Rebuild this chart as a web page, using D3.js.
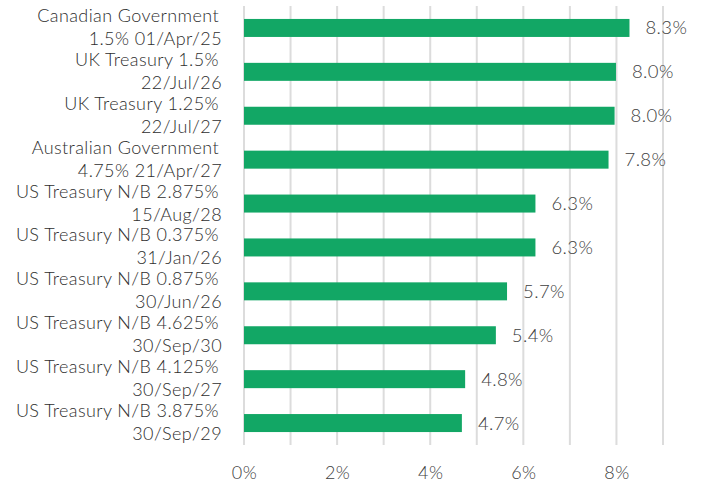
<!DOCTYPE html>
<html>
<head>
<meta charset="utf-8">
<script src="https://cdn.jsdelivr.net/npm/d3@7"></script>
<style>
  body { margin: 0; background: #fff; }
  svg { display: block; font-family: "Lato", "Open Sans", sans-serif; font-weight: 300; letter-spacing: 0.4px; }
</style>
</head>
<body>
<svg></svg>
<script>
// bond names, each split into two lines as in the original
const names = [
  ["Canadian Government", "1.5% 01/Apr/25"],
  ["UK Treasury 1.5%", "22/Jul/26"],
  ["UK Treasury 1.25%", "22/Jul/27"],
  ["Australian Government", "4.75% 21/Apr/27"],
  ["US Treasury N/B 2.875%", "15/Aug/28"],
  ["US Treasury N/B 0.375%", "31/Jan/26"],
  ["US Treasury N/B 0.875%", "30/Jun/26"],
  ["US Treasury N/B 4.625%", "30/Sep/30"],
  ["US Treasury N/B 4.125%", "30/Sep/27"],
  ["US Treasury N/B 3.875%", "30/Sep/29"]
];
const weights = [8.28, 7.99, 7.96, 7.83, 6.26, 6.26, 5.65, 5.41, 4.75, 4.68];
const valueLabels = ["8.3%", "8.0%", "8.0%", "7.8%", "6.3%", "6.3%", "5.7%", "5.4%", "4.8%", "4.7%"];
const gridTicks = [0, 1, 2, 3, 4, 5, 6, 7, 8, 9];
const axisTicks = [0, 2, 4, 6, 8];

const width = 706;
const height = 485;

const svg = d3.select("svg").attr("width", width).attr("height", height);

const x = d3.scaleLinear().domain([0, 9]).range([244, 663]);
const y = d3.scaleBand()
  .domain(d3.range(names.length))
  .range([6, 445])
  .paddingInner(0.59)
  .paddingOuter(0.295);

// grid lines
svg.append("g")
  .selectAll("line")
  .data(gridTicks)
  .join("line")
  .attr("x1", d => x(d))
  .attr("x2", d => x(d))
  .attr("y1", 6)
  .attr("y2", 445)
  .attr("stroke", "#dcdcdc")
  .attr("stroke-width", 2);

// bars
svg.append("g")
  .selectAll("rect")
  .data(weights)
  .join("rect")
  .attr("x", x(0))
  .attr("y", (d, i) => y(i))
  .attr("width", d => x(d) - x(0))
  .attr("height", y.bandwidth())
  .attr("fill", "#12a765");

// value labels
svg.append("g")
  .selectAll("text")
  .data(weights)
  .join("text")
  .attr("x", d => x(d) + 16)
  .attr("y", (d, i) => y(i) + y.bandwidth() / 2)
  .attr("dy", "0.35em")
  .attr("font-size", 18.5)
  .attr("fill", "#404040")
  .text((d, i) => valueLabels[i]);

// category labels
const cat = svg.append("g")
  .selectAll("text")
  .data(names)
  .join("text")
  .attr("text-anchor", "end")
  .attr("font-size", 18)
  .attr("fill", "#2e2e2e");

cat.append("tspan")
  .attr("x", 219)
  .attr("y", (d, i) => y(i) + y.bandwidth() / 2 - 6)
  .text(d => d[0]);
cat.append("tspan")
  .attr("x", 222)
  .attr("y", (d, i) => y(i) + y.bandwidth() / 2 + 17)
  .text(d => d[1]);

// x axis
const xAxis = svg.append("g")
  .attr("transform", "translate(0,460)")
  .call(d3.axisBottom(x).tickValues(axisTicks).tickFormat(d => d + "%").tickSize(0).tickPadding(6));
xAxis.select(".domain").remove();
xAxis.selectAll("text")
  .attr("font-size", 18)
  .attr("font-family", "Lato, sans-serif")
  .attr("font-weight", 300)
  .attr("fill", "#404040");
</script>
</body>
</html>
